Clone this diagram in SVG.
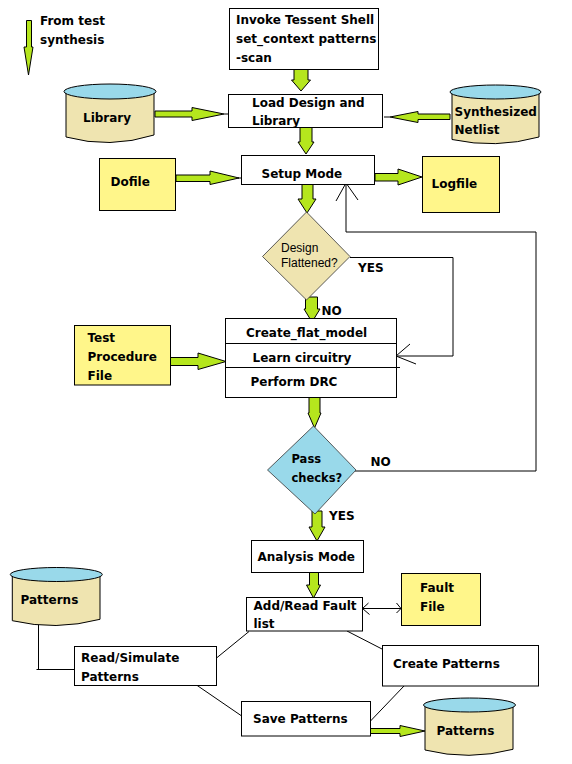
<svg xmlns="http://www.w3.org/2000/svg" width="572" height="764" viewBox="0 0 572 764">
<style>
.bg{fill:#ffffff}
.box{fill:#ffffff;stroke:#000;stroke-width:1}
.ybox{fill:#fff68a;stroke:#000;stroke-width:1}
.arr{fill:#b5e61d;stroke:#000;stroke-width:1;stroke-linejoin:miter}
.ln{fill:none;stroke:#000;stroke-width:1}
.cyl{fill:#efe4b0;stroke:#000;stroke-width:1}
.cyltop{fill:#99d9ea;stroke:#000;stroke-width:1}
.t{font-family:"DejaVu Sans",Verdana,sans-serif;font-weight:bold;font-size:12px;fill:#000}
.tr{font-family:"Liberation Sans",Arial,sans-serif;font-size:12px;fill:#000}
</style>
<rect class="bg" x="0" y="0" width="572" height="764"/>

<g id="connectors">
  <!-- from test synthesis -->
  <polygon class="arr" points="26.5,20.5 31.5,20.5 31.5,47 33,47 28.5,75 24,47 26.5,47"/>
  <!-- Invoke -> Load -->
  <polygon class="arr" points="294,69 308,69 308,80 310.5,80 301,91 291.5,80 294,80"/>
  <!-- Load -> Setup -->
  <polygon class="arr" points="300,127 312,127 312,142 314,142 306,154 298,142 300,142"/>
  <!-- Setup -> Design Flattened -->
  <polygon class="arr" points="302,184 313,184 313,199 316,199 307,213 298,199 302,199"/>
  <!-- Design Flattened -> Create -->
  <polygon class="arr" points="305.5,297 317.5,297 317.5,309 320,309 312,322 304,309 305.5,309"/>
  <!-- Create -> Pass -->
  <polygon class="arr" points="309,397 320,397 320,413 321,413 314.5,428 308,413 309,413"/>
  <!-- Pass -> Analysis -->
  <polygon class="arr" points="312,511 322,511 322,527 325,527 317,541 309,527 312,527"/>
  <!-- Analysis -> Add/Read -->
  <polygon class="arr" points="309.5,572 318.5,572 318.5,585 320.5,585 313.5,598 306.5,585 309.5,585"/>
  <!-- Library -> Load -->
  <polygon class="arr" points="155,111 192,111 192,107.5 224,114 192,120.5 192,117 155,117"/>
  <line class="ln" x1="224" y1="114" x2="229" y2="114"/>
  <!-- Netlist -> Load -->
  <polygon class="arr" points="450,114 418,114 418,111.5 390,117 418,122.5 418,119.5 450,119.5"/>
  <line class="ln" x1="384" y1="117" x2="390" y2="117"/>
  <!-- Dofile -> Setup -->
  <polygon class="arr" points="176,175 210,175 210,171 239,178 210,184.5 210,181.5 176,181.5"/>
  <line class="ln" x1="238" y1="178" x2="242" y2="178"/>
  <!-- Setup -> Logfile -->
  <polygon class="arr" points="375,173.5 398,173.5 398,169 422,177 398,185 398,181 375,181"/>
  <!-- TPF -> Create -->
  <polygon class="arr" points="170,357.5 198,357.5 198,353 226,361.5 198,369.5 198,365.5 170,365.5"/>
  <!-- Save -> Patterns -->
  <polygon class="arr" points="370,728.5 400,728.5 400,725.5 425,731 400,736.5 400,733.5 370,733.5"/>
  <line class="ln" x1="425" y1="731" x2="429" y2="731"/>
  <!-- Pass NO loop back to Setup -->
  <polyline class="ln" points="355,471 536,471 536,232 346,232 346,184"/>
  <polyline class="ln" points="336,201 346,183 358,200"/>
  <!-- Design Flattened YES to Learn circuitry -->
  <polyline class="ln" points="350,257.5 453,257.5 453,356 396,356"/>
  <polyline class="ln" points="410,344 396,356 416,364"/>
  <!-- Add/Read <-> Fault File -->
  <line class="ln" x1="362.5" y1="608.5" x2="401" y2="608.5"/>
  <polyline class="ln" points="368.5,603 362.5,608.5 369.5,614.5"/>
  <polyline class="ln" points="396.5,603 401,608.5 396.5,613"/>
  <!-- Patterns cylinder to Read/Simulate -->
  <polyline class="ln" points="38.5,624 38.5,670"/>
  <line class="ln" x1="36.5" y1="669.5" x2="74" y2="669.5"/>
  <!-- cycle lines -->
  <line class="ln" x1="216.5" y1="658" x2="249" y2="631.5"/>
  <line class="ln" x1="196.5" y1="685" x2="241" y2="715.5"/>
  <line class="ln" x1="347" y1="631" x2="382" y2="649"/>
  <line class="ln" x1="404" y1="686" x2="370.5" y2="721"/>
</g>

<g id="from-test-synthesis">
  <text class="t" x="40" y="25">From test</text>
  <text class="t" x="40" y="44">synthesis</text>
</g>

<g id="invoke">
  <rect class="box" x="229.5" y="8.5" width="149" height="61"/>
  <text class="t" x="236" y="24">Invoke Tessent Shell</text>
  <text class="t" x="236" y="43">set_context patterns</text>
  <text class="t" x="236" y="62">-scan</text>
</g>

<g id="library">
  <path class="cyl" d="M66,91.5 L66,137 Q110,149 154,135 L154,91.5 Z"/>
  <ellipse class="cyltop" cx="110" cy="91.5" rx="46" ry="7.5"/>
  <text class="t" x="83" y="122">Library</text>
</g>

<g id="load-design">
  <rect class="box" x="228.5" y="94.5" width="154" height="33"/>
  <text class="t" x="252" y="106.5">Load Design and</text>
  <text class="t" x="252" y="125">Library</text>
</g>

<g id="netlist">
  <path class="cyl" d="M452,92 L452,139.5 Q496,149 539,137 L539,92 Z"/>
  <ellipse class="cyltop" cx="495.5" cy="92" rx="45.5" ry="7"/>
  <text class="t" x="454.5" y="115.5">Synthesized</text>
  <text class="t" x="454.5" y="134">Netlist</text>
</g>

<g id="dofile">
  <rect class="ybox" x="99.5" y="158.5" width="76" height="52"/>
  <text class="t" x="110.5" y="186">Dofile</text>
</g>

<g id="setup-mode">
  <rect class="box" x="241.5" y="155.5" width="133" height="29"/>
  <text class="t" x="261.5" y="177.5">Setup Mode</text>
</g>

<g id="logfile">
  <rect class="ybox" x="422.5" y="156.5" width="77" height="56"/>
  <text class="t" x="431.5" y="188">Logfile</text>
</g>

<g id="design-flattened">
  <polygon points="306.5,212 350,256.5 306.5,300 262.5,256.5" fill="#efe4b0" stroke="#333" stroke-width="0.8"/>
  <text class="tr" x="281" y="251.5">Design</text>
  <text class="tr" x="281" y="266.5">Flattened?</text>
</g>

<g id="labels">
  <text class="t" x="358" y="271.5">YES</text>
  <text class="t" x="321.5" y="315">NO</text>
  <text class="t" x="370.5" y="466">NO</text>
  <text class="t" x="329" y="519.5">YES</text>
</g>

<g id="test-procedure-file">
  <rect class="ybox" x="74.5" y="325.5" width="96" height="59.5"/>
  <text class="t" x="87.5" y="341.5">Test</text>
  <text class="t" x="87.5" y="360.5">Procedure</text>
  <text class="t" x="87.5" y="379.5">File</text>
</g>

<g id="create-flat-model">
  <rect class="box" x="225.5" y="318.5" width="171" height="79"/>
  <line class="ln" x1="225.5" y1="343.5" x2="396.5" y2="343.5"/>
  <line class="ln" x1="225.5" y1="367.5" x2="400" y2="367.5"/>
  <text class="t" x="246" y="337">Create_flat_model</text>
  <text class="t" x="252.5" y="361.5">Learn circuitry</text>
  <text class="t" x="250.5" y="386">Perform DRC</text>
</g>

<g id="pass-checks">
  <polygon points="313.5,426 356,470 315,514 267.5,470" fill="#99d9ea" stroke="#333" stroke-width="0.8"/>
  <text class="t" x="291.5" y="463" style="font-size:11.5px">Pass</text>
  <text class="t" x="291.5" y="482" style="font-size:11.5px">checks?</text>
</g>

<g id="analysis-mode">
  <rect class="box" x="251.5" y="540.5" width="112" height="32"/>
  <text class="t" x="257.5" y="560.5">Analysis Mode</text>
</g>

<g id="add-read-fault">
  <rect class="box" x="246.5" y="597.5" width="116" height="33.5"/>
  <text class="t" x="253.5" y="610">Add/Read Fault</text>
  <text class="t" x="253.5" y="628">list</text>
</g>

<g id="fault-file">
  <rect class="ybox" x="401.5" y="573.5" width="79" height="52"/>
  <text class="t" x="420" y="591.5">Fault</text>
  <text class="t" x="420" y="611">File</text>
</g>

<g id="patterns-in">
  <path class="cyl" d="M12.3,574.5 L12.3,620.7 Q56,631 100,619.3 L100,574.5 Z"/>
  <ellipse class="cyltop" cx="56.3" cy="574.5" rx="46" ry="7"/>
  <text class="t" x="20.5" y="604">Patterns</text>
</g>

<g id="read-simulate">
  <rect class="box" x="74.5" y="646.5" width="142" height="39"/>
  <text class="t" x="81" y="662">Read/Simulate</text>
  <text class="t" x="81" y="681">Patterns</text>
</g>

<g id="create-patterns">
  <rect class="box" x="382.5" y="645.5" width="156" height="40.5"/>
  <text class="t" x="393" y="668">Create Patterns</text>
</g>

<g id="save-patterns">
  <rect class="box" x="241.5" y="701.5" width="129" height="34.5"/>
  <text class="t" x="253" y="723">Save Patterns</text>
</g>

<g id="patterns-out">
  <path class="cyl" d="M425,705 L425,750 Q469,761 513,749.3 L513,705 Z"/>
  <ellipse class="cyltop" cx="469.5" cy="705" rx="46" ry="7"/>
  <text class="t" x="436.5" y="735">Patterns</text>
</g>
</svg>
